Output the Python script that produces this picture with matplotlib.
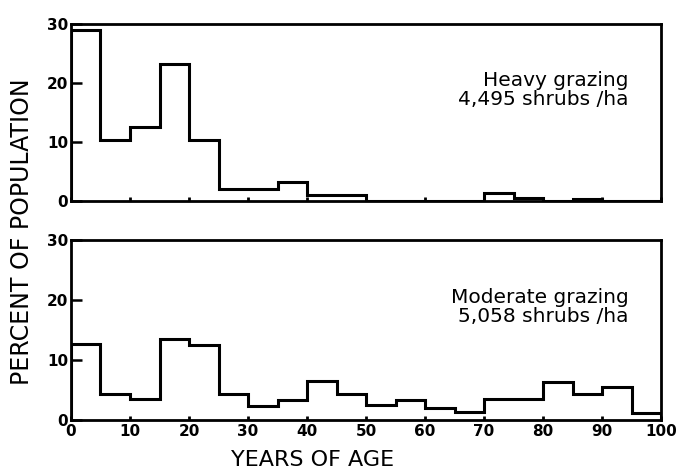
import matplotlib
matplotlib.use("Agg")
import matplotlib.pyplot as plt
import numpy as np

age_edges = list(range(0, 105, 5))
heavy = [29.0, 10.3, 12.6, 23.3, 10.3, 2.1, 2.1, 3.3, 1.1, 1.1,
         0, 0, 0, 0, 1.3, 0.6, 0, 0.4, 0, 0]
moderate = [12.7, 4.4, 3.5, 13.5, 12.6, 4.4, 2.4, 3.4, 6.5, 4.3,
            2.5, 3.3, 2.1, 1.3, 3.5, 3.5, 6.3, 4.4, 5.5, 1.2]
y_ticks = [0, 10, 20, 30]
x_ticks = list(range(0, 101, 10))
heavy_label = "Heavy grazing\n4,495 shrubs /ha"
moderate_label = "Moderate grazing\n5,058 shrubs /ha"

plt.rcParams['font.family'] = ['DejaVu Sans']

fig = plt.figure(figsize=(6.76, 4.70), dpi=100)
ax1 = fig.add_axes([0.105, 0.572, 0.873, 0.377])
ax2 = fig.add_axes([0.105, 0.106, 0.873, 0.383])

for ax, vals, label in [(ax1, heavy, heavy_label), (ax2, moderate, moderate_label)]:
    ax.stairs(vals, age_edges, color='black', linewidth=2.2, baseline=0)
    ax.set_xlim(0, 100)
    ax.set_ylim(0, 30)
    ax.set_yticks(y_ticks)
    ax.set_yticklabels([str(t) for t in y_ticks], fontweight='bold', fontsize=11)
    ax.set_xticks(x_ticks)
    ax.tick_params(axis='y', direction='in', length=8, width=1.8, pad=2,
                   left=True, right=False)
    ax.tick_params(axis='x', direction='in', length=3, width=2.0, pad=3,
                   bottom=True, top=False)
    for s in ax.spines.values():
        s.set_linewidth(2.0)
    ax.text(0.945, 0.63, label, transform=ax.transAxes, ha='right', va='center',
            fontsize=14.5, linespacing=1.0)

ax1.set_xticklabels([])
ax2.set_xticklabels([str(t) for t in x_ticks], fontweight='bold', fontsize=11)

fig.text(0.033, 0.506, "PERCENT OF POPULATION", rotation=90, ha='center', va='center',
         fontsize=17)
fig.text(0.463, 0.021, "YEARS OF AGE", ha='center', va='center', fontsize=16)

fig.savefig("out.png", dpi=100)
